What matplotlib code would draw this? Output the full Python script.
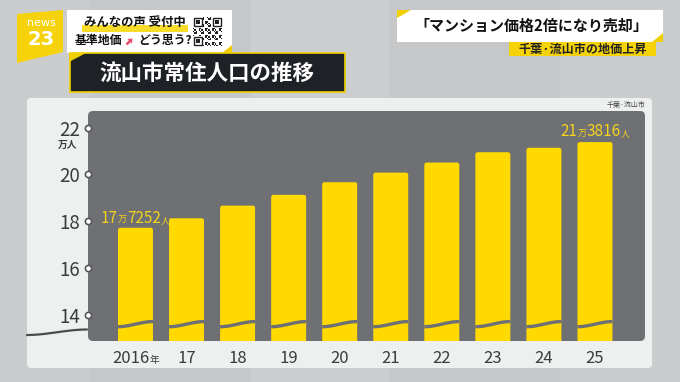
import numpy as np
import matplotlib.pyplot as plt
from matplotlib.patches import FancyBboxPatch, Polygon, Rectangle, FancyArrow
from matplotlib.transforms import ScaledTranslation, blended_transform_factory

plt.rcParams['font.family'] = ['Noto Sans CJK JP', 'DejaVu Sans']

# 流山市 常住人口 (万人)
years = ["2016", "17", "18", "19", "20", "21", "22", "23", "24", "25"]
population = [17.7252, 18.13, 18.67, 19.13, 19.67, 20.08, 20.51, 20.95, 21.14, 21.3816]
yticks = [14, 16, 18, 20, 22]
first_label = ["17", "万", "7252", "人"]
last_label = ["21", "万", "3816", "人"]

YELLOW = "#ffd900"
PLOT_GRAY = "#6e7074"
CARD = "#eef0f0"
DARK = "#3a3b3d"

fig = plt.figure(figsize=(6.8, 3.82), dpi=100)
fig.patch.set_facecolor("#c6c7c8")

# background layer in pixel coordinates
bg = fig.add_axes([0, 0, 1, 1])
bg.set_xlim(0, 680)
bg.set_ylim(382, 0)
bg.axis("off")

for x0, w, a in [(0, 90, 0.10), (250, 140, 0.12), (560, 120, 0.10)]:
    bg.add_patch(Rectangle((x0, 0), w, 382, color="white", alpha=a, lw=0))

# card and plot area
bg.add_patch(FancyBboxPatch((27, 98), 625, 270, boxstyle="round,pad=0,rounding_size=4",
                            fc=CARD, ec="none"))
bg.add_patch(FancyBboxPatch((88, 111), 557, 230, boxstyle="round,pad=0,rounding_size=5",
                            fc=PLOT_GRAY, ec="none"))
bg.text(626, 104.5, "千葉·流山市", fontsize=5, color="#444", ha="center", va="center")
bg.text(68, 145, "万人", fontsize=7, color=DARK, ha="center", va="center", fontweight="bold")

# break line on the left
t = np.linspace(0, 1, 40)
s = 3 * t**2 - 2 * t**3
bg.plot(27 + 60 * t, 335 - 5.5 * s, color="#4a4c50", lw=1.6, solid_capstyle="round")

# news23 logo
bg.add_patch(Polygon([(17, 14), (63, 10), (63, 52), (17, 63)], closed=True, fc="#f5d20a", ec="none"))
bg.text(41, 23, "news", fontsize=8, color="white", ha="center", va="center",
        family="DejaVu Sans")
bg.text(41, 39.5, "23", fontsize=14, color="white", ha="center", va="center",
        fontweight="bold", family="DejaVu Sans")

# white box with QR
bg.add_patch(Rectangle((67, 10), 165, 43, fc="white", ec="none"))
bg.add_patch(Rectangle((82, 25), 106, 6.5, fc="#f7dc2a", ec="none"))
bg.add_patch(Polygon([(232, 45), (232, 53), (222, 53)], closed=True, fc="#f0d000", ec="none"))
bg.text(135, 22.5, "みんなの声 受付中", fontsize=8.9, color="#111", ha="center", va="center",
        fontweight="bold")
bg.text(75, 40.5, "基準地価", fontsize=8.6, color="#111", ha="left", va="center", fontweight="bold")
bg.add_patch(FancyArrow(126.5, 44.5, 6, -6, width=2.6, head_width=6.5, head_length=4,
                        length_includes_head=True, fc="#e8506a", ec="none"))
bg.text(138, 40.5, "どう思う?", fontsize=8.6, color="#111", ha="left", va="center", fontweight="bold")

qx, qy, qs = 193, 17, 29
bg.add_patch(Rectangle((qx, qy), qs, qs, fc="white", ec="none"))
n = 21
cell = qs / n
for i in range(n):
    for j in range(n):
        if (i * 7 + j * 3 + i * j) % 5 < 2:
            bg.add_patch(Rectangle((qx + j * cell, qy + i * cell), cell, cell, fc="#222", ec="none"))
for fx, fy in [(0, 0), (n - 7, 0), (0, n - 7)]:
    bg.add_patch(Rectangle((qx + fx * cell, qy + fy * cell), 7 * cell, 7 * cell, fc="white", ec="none"))
    bg.add_patch(Rectangle((qx + (fx + 0.5) * cell, qy + (fy + 0.5) * cell), 6 * cell, 6 * cell,
                           fc="none", ec="#222", lw=1.0))
    bg.add_patch(Rectangle((qx + (fx + 2) * cell, qy + (fy + 2) * cell), 3 * cell, 3 * cell,
                           fc="#222", ec="none"))

# title box
bg.add_patch(Rectangle((70, 53), 275, 39, fc="#1e2126", ec="#f0d000", lw=1.2))
bg.add_patch(Polygon([(69, 53), (86, 53), (69, 62)], closed=True, fc="#f0d000", ec="none"))
bg.text(207, 73, "流山市常住人口の推移", fontsize=15.5, color="white", ha="center", va="center",
        fontweight="bold")

# right headline
bg.add_patch(Rectangle((397, 10), 266, 32, fc="white", ec="none"))
bg.add_patch(Polygon([(397, 10), (411, 10), (397, 18)], closed=True, fc="#f0d000", ec="none"))
bg.add_patch(Polygon([(663, 33), (663, 42), (652, 42)], closed=True, fc="#f0d000", ec="none"))
bg.text(531, 26, "「マンション価格2倍になり売却」", fontsize=10.8, color="#111", ha="center",
        va="center", fontweight="bold")
bg.add_patch(Rectangle((509, 42), 147, 14, fc="#f5d20a", ec="none"))
bg.text(583, 49, "千葉·流山市の地価上昇", fontsize=8.7, color="#222", ha="center", va="center",
        fontweight="bold")

# data axes over the plot area
ax = fig.add_axes([88 / 680, (382 - 341) / 382, 557 / 680, 230 / 382])
ax.patch.set_alpha(0)
for sp in ax.spines.values():
    sp.set_visible(False)
ax.set_xlim(-0.93, 9.98)
ax.set_ylim(12.89, 22.71)

x = np.arange(len(years))
w = 0.685
bars = ax.bar(x, [p - 12 for p in population], bottom=12, width=w, color="none")
aspect = (22.71 - 12.89) / 230 / ((9.98 + 0.93) / 557)
for b in bars:
    ax.add_patch(FancyBboxPatch((b.get_x(), b.get_y()), b.get_width(), b.get_height(),
                                boxstyle="round,pad=0,rounding_size=0.045",
                                mutation_aspect=aspect, fc=YELLOW, ec="none", zorder=2))

# break wave across bars
for xi in x:
    tt = np.linspace(0, 1, 30)
    ss = 3 * tt**2 - 2 * tt**3
    ax.plot(xi - w / 2 + w * tt, 13.50 + 0.22 * ss, color=PLOT_GRAY, lw=2.4,
            solid_capstyle="butt", zorder=3)

ax.set_yticks(yticks)
ax.set_yticklabels([str(v) for v in yticks], fontsize=13.5, color=DARK)
ax.tick_params(axis="y", length=0, pad=5.5)
ax.set_xticks([])
ax.plot([0] * len(yticks), yticks, "o", transform=blended_transform_factory(ax.transAxes, ax.transData),
        clip_on=False, ms=4.5, mfc="white", mec="#55575b", mew=1.2, zorder=5)

renderer = fig.canvas.get_renderer()


def pieces(xc, yc, parts, sizes, color, trans):
    texts, widths = [], []
    for p, fs in zip(parts, sizes):
        tx = ax.text(xc, yc, p, fontsize=fs, color=color, ha="left", va="baseline",
                     transform=trans, clip_on=False)
        texts.append(tx)
        widths.append(tx.get_window_extent(renderer).width)
    off = -sum(widths) / 2
    for tx, wd in zip(texts, widths):
        tx.set_transform(trans + ScaledTranslation(off / fig.dpi, 0, fig.dpi_scale_trans))
        off += wd


xtrans = blended_transform_factory(ax.transData, ax.transAxes)
for i, lab in enumerate(years):
    if i == 0:
        pieces(x[i], -0.096, [lab, "年"], [12, 7], DARK, xtrans)
    else:
        pieces(x[i], -0.096, [lab], [12], DARK, xtrans)

pieces(x[0], population[0] + 0.22, first_label, [11, 6.5, 11, 6.5], "#f5d31c", ax.transData)
pieces(x[-1], population[-1] + 0.24, last_label, [11, 6.5, 11, 6.5], "#f5d31c", ax.transData)

fig.savefig("out.png", dpi=100)
